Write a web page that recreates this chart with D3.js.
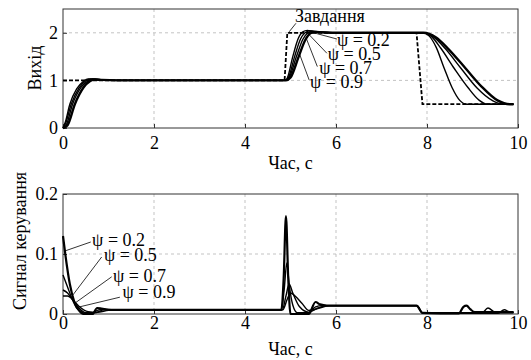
<!DOCTYPE html>
<html>
<head>
<meta charset="utf-8">
<script src="https://cdn.jsdelivr.net/npm/d3@7"></script>
<style>
    body { margin: 0; background: #fff; }
    .grid line { stroke: #b4b4b4; stroke-width: 0.8px; stroke-dasharray: 3,3; }
    .axis path, .axis line { stroke: #333; }
</style>
</head>
<body>
<div id="chart"></div>
<script>
const FONT = '"Liberation Serif", serif';

// ---- data ----
let timeTicks = [0, 2, 4, 6, 8, 10];
let outTicks = [0, 1, 2];
let ctrlTicks = [0, 0.1, 0.2];
let ctrlTickLabels = ["0", "0.1", "0.2"];
let psiNames = ["ψ = 0.2", "ψ = 0.5", "ψ = 0.7", "ψ = 0.9"];

// reference (Завдання), [t, value]
let refOut = [[0, 1], [4.87, 1], [4.93, 2], [7.77, 2], [7.9, 0.5], [9.9, 0.5]];

// outputs
let out02 = [[0, 0], [0.05, 0.12], [0.15, 0.5], [0.3, 0.82], [0.45, 0.98], [0.55, 1.03], [0.7, 1.02], [0.9, 1.0],
    [4.88, 1.0], [4.93, 1.05], [5.05, 1.5], [5.17, 1.88], [5.27, 2.02], [5.37, 2.05], [5.5, 2.03], [5.8, 2.0],
    [7.91, 2.0], [8.05, 1.93], [8.2, 1.7], [8.38, 1.25], [8.55, 0.85], [8.72, 0.58], [8.87, 0.5], [9.9, 0.5]];
let out05 = [[0, 0], [0.05, 0.08], [0.18, 0.5], [0.35, 0.84], [0.5, 0.99], [0.6, 1.03], [0.75, 1.02], [1.0, 1.0],
    [4.88, 1.0], [4.95, 1.05], [5.09, 1.5], [5.22, 1.87], [5.32, 2.0], [5.42, 2.04], [5.55, 2.03], [5.9, 2.0],
    [7.91, 2.0], [8.1, 1.92], [8.3, 1.68], [8.6, 1.25], [8.9, 0.85], [9.15, 0.58], [9.32, 0.5], [9.9, 0.5]];
let out07 = [[0, 0], [0.07, 0.06], [0.21, 0.5], [0.4, 0.86], [0.55, 0.99], [0.65, 1.03], [0.8, 1.02], [1.1, 1.0],
    [4.89, 1.0], [4.97, 1.06], [5.13, 1.5], [5.27, 1.86], [5.37, 1.99], [5.47, 2.03], [5.6, 2.02], [6.0, 2.0],
    [7.92, 2.0], [8.15, 1.91], [8.4, 1.67], [8.75, 1.25], [9.1, 0.84], [9.45, 0.57], [9.67, 0.5], [9.9, 0.5]];
let out09 = [[0, 0], [0.1, 0.06], [0.26, 0.5], [0.45, 0.85], [0.6, 0.99], [0.7, 1.02], [0.85, 1.01], [1.2, 1.0],
    [4.9, 1.0], [5.0, 1.06], [5.18, 1.5], [5.33, 1.86], [5.44, 1.99], [5.55, 2.02], [5.7, 2.01], [6.1, 2.0],
    [7.92, 2.0], [8.2, 1.9], [8.45, 1.68], [8.85, 1.25], [9.2, 0.87], [9.55, 0.58], [9.82, 0.5], [9.9, 0.5]];

// control signals
let ctrl02 = [[0, 0.13], [0.05, 0.1], [0.15, 0.05], [0.25, 0.02], [0.35, 0.006], [0.45, 0], [0.65, 0], [0.75, 0.01],
    [0.85, 0.009], [1.0, 0.007], [4.8, 0.007], [4.85, 0.06], [4.9, 0.163], [4.95, 0.06], [5.0, 0.0], [5.4, 0.0],
    [5.55, 0.02], [5.65, 0.016], [5.8, 0.014], [7.77, 0.014], [7.9, 0.002], [8.7, 0.001], [8.8, 0.012],
    [8.87, 0.014], [8.95, 0.008], [9.05, 0.003], [9.9, 0.003]];
let ctrl05 = [[0, 0.065], [0.1, 0.045], [0.2, 0.025], [0.3, 0.01], [0.45, 0.002], [0.6, 0], [0.75, 0.006], [0.9, 0.008],
    [1.1, 0.007], [4.8, 0.007], [4.86, 0.04], [4.92, 0.085], [4.97, 0.05], [5.05, 0.015], [5.15, 0.002], [5.4, 0.002],
    [5.55, 0.012], [5.7, 0.014], [7.77, 0.014], [7.9, 0.002], [9.2, 0.001], [9.34, 0.01], [9.5, 0.003], [9.9, 0.003]];
let ctrl07 = [[0, 0.04], [0.1, 0.035], [0.2, 0.025], [0.35, 0.01], [0.5, 0.002], [0.7, 0.002], [0.9, 0.007], [1.2, 0.007],
    [4.82, 0.007], [4.9, 0.03], [4.97, 0.05], [5.05, 0.035], [5.2, 0.012], [5.4, 0.003], [5.6, 0.01], [5.8, 0.014],
    [7.78, 0.014], [7.9, 0.002], [9.55, 0.001], [9.7, 0.007], [9.8, 0.004], [9.9, 0.003]];
let ctrl09 = [[0, 0.03], [0.1, 0.03], [0.2, 0.025], [0.35, 0.013], [0.55, 0.004], [0.75, 0.003], [1.0, 0.006], [1.3, 0.007],
    [4.83, 0.007], [4.93, 0.025], [5.0, 0.035], [5.1, 0.03], [5.25, 0.018], [5.4, 0.006], [5.6, 0.009], [5.85, 0.014],
    [7.78, 0.014], [7.9, 0.002], [9.9, 0.002]];

// annotation anchors in data units: text (t, v), leader from (t, v) to (t, v)
let outNotes = [
    {text: "Завдання", at: [5.1, 2.23], from: [5.12, 2.2], to: [4.97, 2.02]},
    {text: psiNames[0], at: [6.02, 1.73], from: [6.02, 1.87], to: [5.47, 2.01]},
    {text: psiNames[1], at: [5.82, 1.43], from: [5.8, 1.57], to: [5.41, 1.96]},
    {text: psiNames[2], at: [5.63, 1.14], from: [5.59, 1.29], to: [5.34, 1.9]},
    {text: psiNames[3], at: [5.43, 0.84], from: [5.41, 1.01], to: [5.2, 1.55]}
];
let ctrlNotes = [
    {text: psiNames[0], at: [0.64, 0.113], from: [0.61, 0.12], to: [0.04, 0.105]},
    {text: psiNames[1], at: [0.9, 0.089], from: [0.85, 0.095], to: [0.19, 0.029]},
    {text: psiNames[2], at: [1.1, 0.054], from: [1.07, 0.062], to: [0.26, 0.018]},
    {text: psiNames[3], at: [1.31, 0.027], from: [1.25, 0.028], to: [0.37, 0.012]}
];

class SignalPlot {
    constructor(svg, opts) {
        this.svg = svg;
        this.opts = opts;
        this.initVis();
    }

    initVis() {
        let vis = this, o = vis.opts;

        vis.x = d3.scaleLinear().domain([0, 10]).range([o.left, o.right]);
        vis.y = d3.scaleLinear().domain(o.yDomain).range([o.bottom, o.top]);

        // grid
        let grid = vis.svg.append("g").attr("class", "grid");
        grid.selectAll(".gx").data(timeTicks.slice(1, -1)).enter().append("line")
            .attr("x1", d => vis.x(d)).attr("x2", d => vis.x(d))
            .attr("y1", o.top).attr("y2", o.bottom);
        grid.selectAll(".gy").data(o.yTicks.slice(1, -1).concat(o.extraGrid || [])).enter().append("line")
            .attr("x1", o.left).attr("x2", o.right)
            .attr("y1", d => vis.y(d)).attr("y2", d => vis.y(d));

        // axes
        vis.svg.append("g").attr("class", "axis")
            .attr("transform", `translate(0,${o.bottom})`)
            .call(d3.axisBottom(vis.x).tickValues(timeTicks).tickSize(-4).tickPadding(o.xPad).tickFormat(d3.format("d")))
            .call(g => g.select(".domain").remove());
        vis.svg.append("g").attr("class", "axis")
            .attr("transform", `translate(${o.left},0)`)
            .call(d3.axisLeft(vis.y).tickValues(o.yTicks).tickSize(-4).tickPadding(5)
                .tickFormat((d, i) => o.yLabels[i]))
            .call(g => g.select(".domain").remove());
        vis.svg.selectAll(".axis").attr("font-family", FONT).attr("font-size", 18);
        vis.svg.selectAll(".axis text").style("font-family", FONT).style("font-size", "18px").attr("fill", "#000");

        vis.svg.append("rect")
            .attr("x", o.left).attr("y", o.top)
            .attr("width", o.right - o.left).attr("height", o.bottom - o.top)
            .attr("fill", "none").attr("stroke", "#333").attr("stroke-width", 1);

        // lines
        let line = d3.line().x(d => vis.x(d[0])).y(d => vis.y(d[1])).curve(d3.curveMonotoneX);
        let straight = d3.line().x(d => vis.x(d[0])).y(d => vis.y(d[1]));

        if (o.ref) {
            vis.svg.append("path").attr("d", straight(o.ref))
                .attr("fill", "none").attr("stroke", "#000")
                .attr("stroke-width", 1.8).attr("stroke-dasharray", "4,2");
        }
        vis.svg.selectAll(".series" + o.name).data(o.series).enter().append("path")
            .attr("d", d => line(d))
            .attr("fill", "none").attr("stroke", "#000")
            .attr("stroke-width", (d, i) => o.widths[i])
            .attr("stroke-linejoin", "round");

        // annotations
        let notes = vis.svg.append("g");
        notes.selectAll("line").data(o.notes).enter().append("line")
            .attr("x1", d => vis.x(d.from[0])).attr("y1", d => vis.y(d.from[1]))
            .attr("x2", d => vis.x(d.to[0])).attr("y2", d => vis.y(d.to[1]))
            .attr("stroke", "#000").attr("stroke-width", 0.8);
        notes.selectAll("text").data(o.notes).enter().append("text")
            .attr("x", d => vis.x(d.at[0])).attr("y", d => vis.y(d.at[1]))
            .style("font-family", FONT).style("font-size", "18px")
            .text(d => d.text);

        // axis titles
        vis.svg.append("text")
            .attr("x", (o.left + o.right) / 2).attr("y", o.xTitleY)
            .attr("text-anchor", "middle")
            .style("font-family", FONT).style("font-size", "18px")
            .text("Час, с");
        vis.svg.append("text")
            .attr("transform", `translate(${o.yTitleX},${o.yTitleMid}) rotate(-90)`)
            .attr("text-anchor", "middle")
            .style("font-family", FONT).style("font-size", "18px")
            .text(o.yTitle);
    }
}

let svg = d3.select("#chart").append("svg")
    .attr("width", 531).attr("height", 360);

new SignalPlot(svg, {
    name: "out", left: 63, right: 518, top: 9, bottom: 128,
    yDomain: [0, 2.5], yTicks: outTicks, yLabels: outTicks.map(String), extraGrid: [2],
    xPad: 8, xTitleY: 169, yTitleX: 41, yTitleMid: 68, yTitle: "Вихід",
    ref: refOut, series: [out02, out05, out07, out09], widths: [1.4, 1.4, 1.4, 2.4],
    notes: outNotes
});

new SignalPlot(svg, {
    name: "ctrl", left: 63, right: 518, top: 194, bottom: 314,
    yDomain: [0, 0.2], yTicks: ctrlTicks, yLabels: ctrlTickLabels,
    xPad: 2, xTitleY: 355, yTitleX: 26, yTitleMid: 241, yTitle: "Сигнал керування",
    ref: null, series: [ctrl02, ctrl05, ctrl07, ctrl09], widths: [2.2, 1.4, 1.4, 1.4],
    notes: ctrlNotes
});
</script>
</body>
</html>
